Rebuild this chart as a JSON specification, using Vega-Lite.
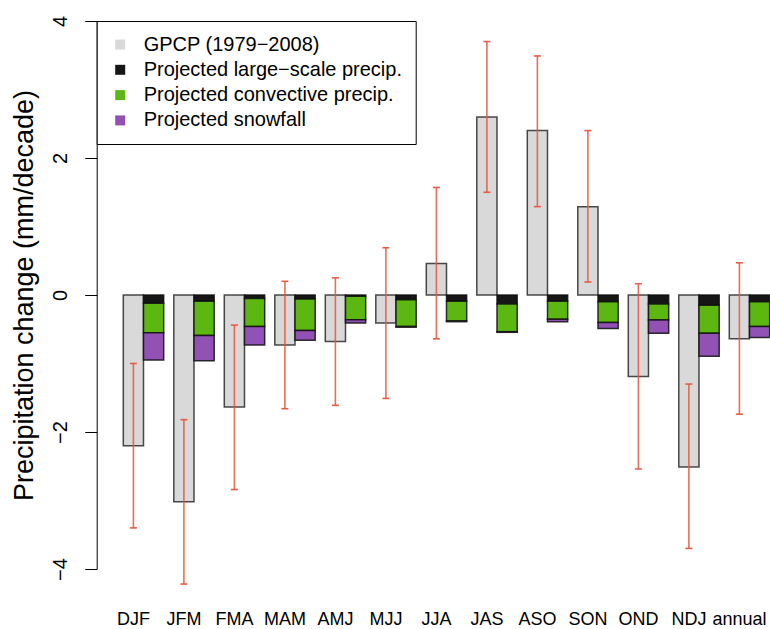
{
  "$schema": "https://vega.github.io/schema/vega-lite/v6.json",
  "width": 646.4,
  "height": 548,
  "autosize": {"type": "none"},
  "padding": {"left": 123.3, "top": 21, "right": 0, "bottom": 60},
  "background": "white",
  "config": {"view": {"stroke": null}, "font": "Liberation Sans"},
  "datasets": {
    "obs": [
      {"season": "DJF", "group": "obs", "series": "GPCP (1979−2008)", "value": -2.2, "lo": -3.4, "hi": -1.0},
      {"season": "JFM", "group": "obs", "series": "GPCP (1979−2008)", "value": -3.02, "lo": -4.22, "hi": -1.82},
      {"season": "FMA", "group": "obs", "series": "GPCP (1979−2008)", "value": -1.635, "lo": -2.84, "hi": -0.44},
      {"season": "MAM", "group": "obs", "series": "GPCP (1979−2008)", "value": -0.73, "lo": -1.66, "hi": 0.2},
      {"season": "AMJ", "group": "obs", "series": "GPCP (1979−2008)", "value": -0.68, "lo": -1.61, "hi": 0.25},
      {"season": "MJJ", "group": "obs", "series": "GPCP (1979−2008)", "value": -0.41, "lo": -1.51, "hi": 0.69},
      {"season": "JJA", "group": "obs", "series": "GPCP (1979−2008)", "value": 0.46, "lo": -0.64, "hi": 1.57},
      {"season": "JAS", "group": "obs", "series": "GPCP (1979−2008)", "value": 2.6, "lo": 1.5, "hi": 3.7},
      {"season": "ASO", "group": "obs", "series": "GPCP (1979−2008)", "value": 2.4, "lo": 1.29, "hi": 3.49},
      {"season": "SON", "group": "obs", "series": "GPCP (1979−2008)", "value": 1.29, "lo": 0.19, "hi": 2.4},
      {"season": "OND", "group": "obs", "series": "GPCP (1979−2008)", "value": -1.19, "lo": -2.54, "hi": 0.165},
      {"season": "NDJ", "group": "obs", "series": "GPCP (1979−2008)", "value": -2.51, "lo": -3.7, "hi": -1.3},
      {"season": "annual", "group": "obs", "series": "GPCP (1979−2008)", "value": -0.64, "lo": -1.74, "hi": 0.47}
    ],
    "proj": [
      {"season": "DJF", "group": "proj", "series": "Projected large−scale precip.", "ord": 1, "value": -0.12},
      {"season": "DJF", "group": "proj", "series": "Projected convective precip.", "ord": 2, "value": -0.43},
      {"season": "DJF", "group": "proj", "series": "Projected snowfall", "ord": 3, "value": -0.4},
      {"season": "JFM", "group": "proj", "series": "Projected large−scale precip.", "ord": 1, "value": -0.09},
      {"season": "JFM", "group": "proj", "series": "Projected convective precip.", "ord": 2, "value": -0.5},
      {"season": "JFM", "group": "proj", "series": "Projected snowfall", "ord": 3, "value": -0.37},
      {"season": "FMA", "group": "proj", "series": "Projected large−scale precip.", "ord": 1, "value": -0.05},
      {"season": "FMA", "group": "proj", "series": "Projected convective precip.", "ord": 2, "value": -0.41},
      {"season": "FMA", "group": "proj", "series": "Projected snowfall", "ord": 3, "value": -0.27},
      {"season": "MAM", "group": "proj", "series": "Projected large−scale precip.", "ord": 1, "value": -0.06},
      {"season": "MAM", "group": "proj", "series": "Projected convective precip.", "ord": 2, "value": -0.46},
      {"season": "MAM", "group": "proj", "series": "Projected snowfall", "ord": 3, "value": -0.14},
      {"season": "AMJ", "group": "proj", "series": "Projected large−scale precip.", "ord": 1, "value": -0.02},
      {"season": "AMJ", "group": "proj", "series": "Projected convective precip.", "ord": 2, "value": -0.34},
      {"season": "AMJ", "group": "proj", "series": "Projected snowfall", "ord": 3, "value": -0.05},
      {"season": "MJJ", "group": "proj", "series": "Projected large−scale precip.", "ord": 1, "value": -0.07},
      {"season": "MJJ", "group": "proj", "series": "Projected convective precip.", "ord": 2, "value": -0.39},
      {"season": "MJJ", "group": "proj", "series": "Projected snowfall", "ord": 3, "value": -0.01},
      {"season": "JJA", "group": "proj", "series": "Projected large−scale precip.", "ord": 1, "value": -0.09},
      {"season": "JJA", "group": "proj", "series": "Projected convective precip.", "ord": 2, "value": -0.29},
      {"season": "JJA", "group": "proj", "series": "Projected snowfall", "ord": 3, "value": -0.01},
      {"season": "JAS", "group": "proj", "series": "Projected large−scale precip.", "ord": 1, "value": -0.13},
      {"season": "JAS", "group": "proj", "series": "Projected convective precip.", "ord": 2, "value": -0.405},
      {"season": "JAS", "group": "proj", "series": "Projected snowfall", "ord": 3, "value": -0.01},
      {"season": "ASO", "group": "proj", "series": "Projected large−scale precip.", "ord": 1, "value": -0.09},
      {"season": "ASO", "group": "proj", "series": "Projected convective precip.", "ord": 2, "value": -0.265},
      {"season": "ASO", "group": "proj", "series": "Projected snowfall", "ord": 3, "value": -0.035},
      {"season": "SON", "group": "proj", "series": "Projected large−scale precip.", "ord": 1, "value": -0.1},
      {"season": "SON", "group": "proj", "series": "Projected convective precip.", "ord": 2, "value": -0.3},
      {"season": "SON", "group": "proj", "series": "Projected snowfall", "ord": 3, "value": -0.09},
      {"season": "OND", "group": "proj", "series": "Projected large−scale precip.", "ord": 1, "value": -0.13},
      {"season": "OND", "group": "proj", "series": "Projected convective precip.", "ord": 2, "value": -0.235},
      {"season": "OND", "group": "proj", "series": "Projected snowfall", "ord": 3, "value": -0.195},
      {"season": "NDJ", "group": "proj", "series": "Projected large−scale precip.", "ord": 1, "value": -0.15},
      {"season": "NDJ", "group": "proj", "series": "Projected convective precip.", "ord": 2, "value": -0.41},
      {"season": "NDJ", "group": "proj", "series": "Projected snowfall", "ord": 3, "value": -0.335},
      {"season": "annual", "group": "proj", "series": "Projected large−scale precip.", "ord": 1, "value": -0.1},
      {"season": "annual", "group": "proj", "series": "Projected convective precip.", "ord": 2, "value": -0.36},
      {"season": "annual", "group": "proj", "series": "Projected snowfall", "ord": 3, "value": -0.16}
    ]
  },
  "layer": [
    {
      "data": {"name": "obs"},
      "mark": {"type": "bar", "stroke": "#2a2a2a", "strokeWidth": 1.5, "strokeOpacity": 0.85},
      "encoding": {
        "x": {
          "field": "season", "type": "nominal", "sort": null,
          "scale": {"domain": ["DJF", "JFM", "FMA", "MAM", "AMJ", "MJJ", "JJA", "JAS", "ASO", "SON", "OND", "NDJ", "annual"], "paddingInner": 0.2, "paddingOuter": 0},
          "axis": {"title": null, "domain": false, "ticks": false, "labelAngle": 0, "labelFontSize": 18, "labelOffset": -10, "labelPadding": 55.5, "labelBaseline": "alphabetic", "labelColor": "black", "labelOverlap": false, "labelFont": "Liberation Sans"}
        },
        "xOffset": {"field": "group", "type": "nominal", "scale": {"domain": ["obs", "proj"], "paddingInner": 0, "paddingOuter": 0}},
        "y": {
          "field": "value", "type": "quantitative", "stack": null,
          "scale": {"domain": [-4, 4], "nice": false, "zero": false},
          "axis": {"title": "Precipitation change (mm/decade)", "values": [-4, -2, 0, 2, 4], "format": "d", "offset": 26.6, "tickSize": 12, "labelAngle": 270, "labelAlign": "center", "labelBaseline": "alphabetic", "labelPadding": 18, "labelFontSize": 20, "labelFlush": false, "labelOverlap": false, "titleFontSize": 27, "titleFontWeight": "normal", "titlePadding": 12, "grid": false, "domainColor": "black", "tickColor": "black", "labelColor": "black", "titleColor": "black", "labelFont": "Liberation Sans", "titleFont": "Liberation Sans"}
        },
        "color": {
          "field": "series", "type": "nominal",
          "scale": {"domain": ["GPCP (1979−2008)", "Projected large−scale precip.", "Projected convective precip.", "Projected snowfall"], "range": ["#d9d9d9", "#161616", "#5cb811", "#9251b5"]},
          "legend": {"title": null, "orient": "none", "legendX": -26.6, "legendY": 0, "strokeColor": "black", "fillColor": "white", "padding": 13.5, "symbolType": "square", "symbolSize": 100, "symbolStrokeWidth": 0, "symbolOpacity": 1, "labelFontSize": 20, "labelOffset": 13.5, "rowPadding": 5.3, "labelFont": "Liberation Sans", "labelColor": "black", "labelLimit": 400}
        }
      }
    },
    {
      "data": {"name": "proj"},
      "mark": {"type": "bar", "stroke": "#111111", "strokeWidth": 1.5, "strokeOpacity": 0.85},
      "encoding": {
        "x": {"field": "season", "type": "nominal", "sort": null},
        "xOffset": {"field": "group", "type": "nominal"},
        "y": {"field": "value", "type": "quantitative", "stack": "zero"},
        "color": {"field": "series", "type": "nominal"},
        "order": {"field": "ord", "type": "quantitative"}
      }
    },
    {
      "data": {"name": "obs"},
      "mark": {"type": "rule", "color": "#e8553d", "strokeWidth": 1.6, "opacity": 0.85},
      "encoding": {
        "x": {"field": "season", "type": "nominal", "sort": null},
        "xOffset": {"field": "group", "type": "nominal"},
        "y": {"field": "lo", "type": "quantitative"},
        "y2": {"field": "hi"}
      }
    },
    {
      "data": {"name": "obs"},
      "mark": {"type": "tick", "color": "#e8553d", "thickness": 1.6, "size": 7, "opacity": 0.95},
      "encoding": {
        "x": {"field": "season", "type": "nominal", "sort": null},
        "xOffset": {"field": "group", "type": "nominal"},
        "y": {"field": "lo", "type": "quantitative"}
      }
    },
    {
      "data": {"name": "obs"},
      "mark": {"type": "tick", "color": "#e8553d", "thickness": 1.6, "size": 7, "opacity": 0.95},
      "encoding": {
        "x": {"field": "season", "type": "nominal", "sort": null},
        "xOffset": {"field": "group", "type": "nominal"},
        "y": {"field": "hi", "type": "quantitative"}
      }
    }
  ]
}
